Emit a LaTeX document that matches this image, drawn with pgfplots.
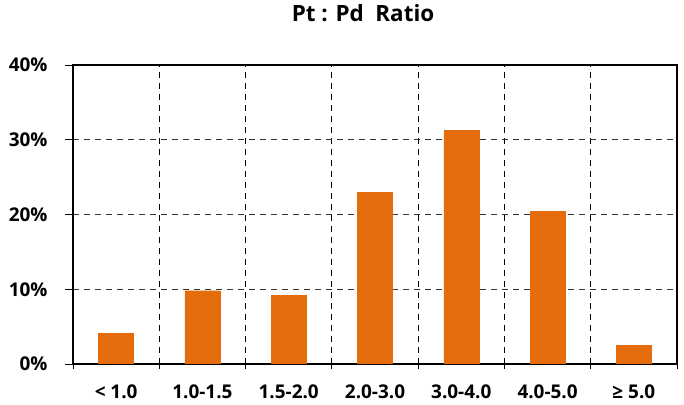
\documentclass[border=0pt]{standalone}
\usepackage{pgfplots}
\pgfplotsset{compat=1.18}
\usepackage{fontspec}
\setmainfont{Open Sans}
\definecolor{barorange}{HTML}{E46C0A}
\begin{document}
\begin{tikzpicture}
\useasboundingbox (-73bp,-41bp) rectangle (611bp,364bp);
\begin{axis}[
  at={(0,0)}, anchor=south west,
  scale only axis, width=604bp, height=299bp,
  xmin=-0.5, xmax=6.5, ymin=0, ymax=40,
  axis line style={line width=1.6pt, black},
  xtick={0,1,2,3,4,5,6},
  xticklabels={{< 1.0},{1.0-1.5},{1.5-2.0},{2.0-3.0},{3.0-4.0},{4.0-5.0},{≥ 5.0}},
  major x tick style={draw=none},
  minor xtick={-0.5,0.5,1.5,2.5,3.5,4.5,5.5,6.5},
  minor x tick style={black, line width=0.8pt},
  minor tick length=5bp,
  xminorgrids=true,
  minor x grid style={black, line width=1pt, dash pattern=on 6bp off 5bp},
  ytick={0,10,20,30,40},
  yticklabel={\pgfmathprintnumber{\tick}\%},
  ymajorgrids=true,
  major y grid style={black!80, line width=1pt, dash pattern=on 6bp off 5bp},
  major y tick style={black, line width=0.8pt},
  major tick length=8bp,
  tick align=outside,
  xtick pos=bottom, ytick pos=left,
  /pgf/number format/assume math mode=true,
  tick label style={font=\fontsize{19}{22}\selectfont\bfseries},
  xticklabel style={yshift=-9bp},
  yticklabel style={xshift=-14bp},
  title={\fontsize{22.5}{26}\selectfont\bfseries Pt : Pd\ \ Ratio},
  title style={yshift=34bp, xshift=-12bp},
  axis on top=false,
]
\addplot[ybar, bar width=35bp, fill=barorange, draw=barorange] coordinates {
(0,4.1) (1,9.8) (2,9.2) (3,23.0) (4,31.3) (5,20.4) (6,2.5)};
\end{axis}
\end{tikzpicture}
\end{document}
